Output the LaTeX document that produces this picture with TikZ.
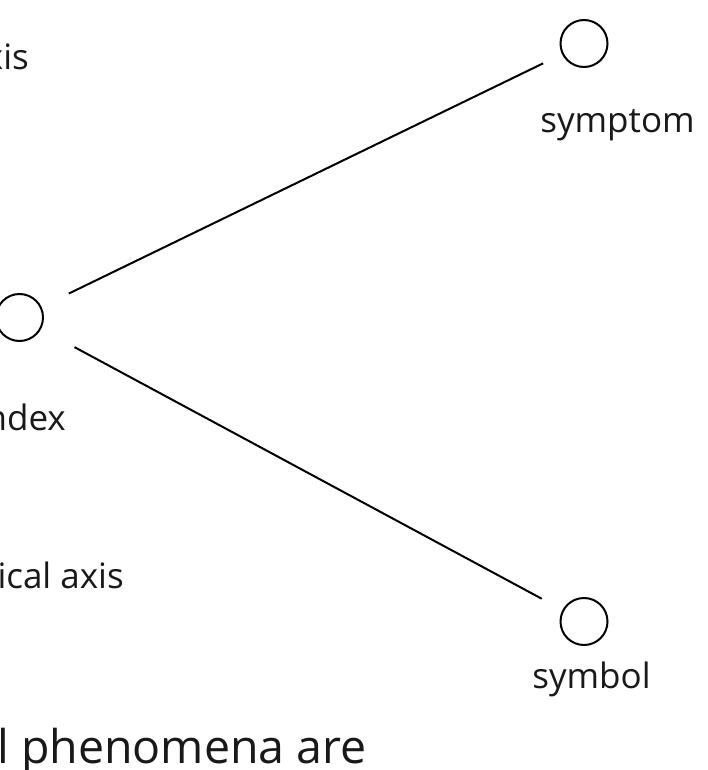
\documentclass[tikz,border=0pt]{standalone}
\usepackage{fontspec}
\setmainfont{Open Sans}
\begin{document}
\begin{tikzpicture}[x=1pt,y=-1pt,
  sign/.style={circle,draw=black,line width=2pt,minimum size=47pt,inner sep=0pt,outer sep=0pt},
  label/.style={inner sep=0pt,text=black!90,font=\fontsize{35}{42}\selectfont},
  bigtext/.style={inner sep=0pt,text=black!90,font=\fontsize{46.5}{56}\selectfont},
  link/.style={draw=black,line width=2pt}]
  \useasboundingbox (0,0) rectangle (707,770);
  \clip (0,0) rectangle (707,770);

  % the three signs
  \node[sign] (index)   at (19.5,317.5) {};
  \node[sign] (symptom) at (584,43.5) {};
  \node[sign] (symbol)  at (584,621.5) {};

  % their names
  \node[label,anchor=base]      (tsymptom) at (617.5,133) {symptom};
  \node[label,anchor=base]      (tsymbol)  at (591.5,688) {symbol};
  \node[label,anchor=base east] (tindex)   at (66,430) {ndex};
  \node[label,anchor=base east] (taxisA)   at (29,70) {xis};
  \node[label,anchor=base east] (taxisB)   at (124,588) {ical axis};
  \node[bigtext,anchor=base west] (tline) at (-3,763) {l phenomena are};

  % connections
  \draw[link,shorten <=31.3pt,shorten >=22pt] (index) -- (symptom);
  \draw[link,shorten <=39pt,shorten >=24.6pt] (index) -- (symbol);
\end{tikzpicture}
\end{document}
